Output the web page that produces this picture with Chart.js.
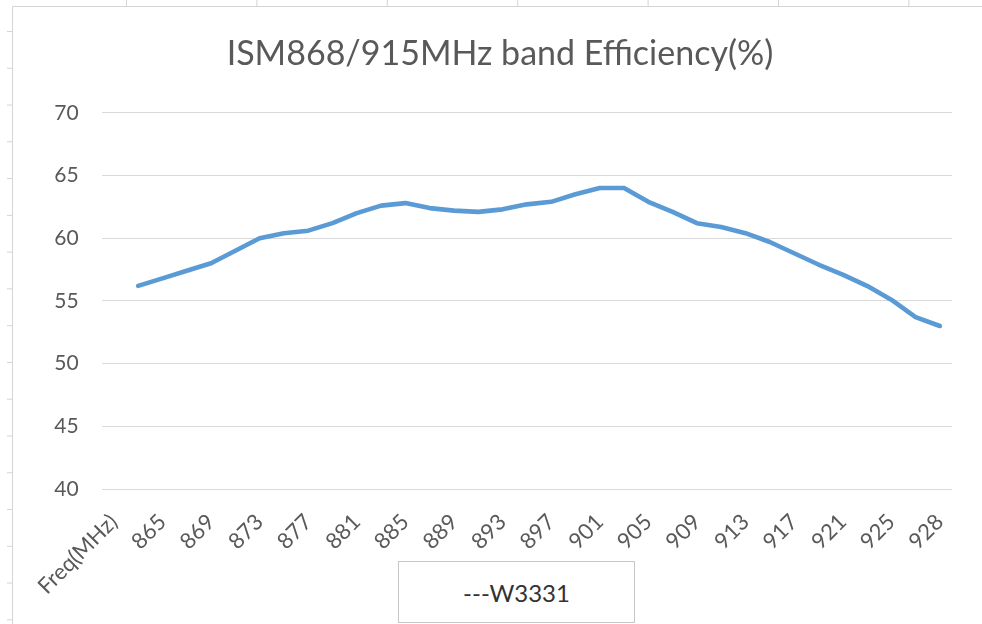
<!DOCTYPE html>
<html>
<head>
<meta charset="utf-8">
<script src="https://cdn.jsdelivr.net/npm/chart.js@4"></script>
<style>
  body { margin: 0; background: #fff; }
  #marco { position: relative; width: 982px; height: 624px; }
  #leyenda {
    position: absolute; left: 398px; top: 561px; width: 235px; height: 60px;
    border: 1px solid #c8c8c8; background: #fff;
    font: 24px Lato, sans-serif; color: #333;
    display: flex; align-items: center; justify-content: center;
  }
</style>
</head>
<body>
<div id="marco">
  <canvas id="grafico" width="982" height="624"></canvas>
  <div id="leyenda"></div>
</div>
<script>
// datos
const titulo = 'ISM868/915MHz band Efficiency(%)';
const serie = '---W3331';

const categorias = ['Freq(MHz)',
  '863', '865', '867', '869', '871', '873', '875', '877', '879', '881',
  '883', '885', '887', '889', '891', '893', '895', '897', '899', '901',
  '903', '905', '907', '909', '911', '913', '915', '917', '919', '921',
  '923', '925', '927', '928'];

const eficiencia = [null,
  56.2, 56.8, 57.4, 58.0, 59.0, 60.0, 60.4, 60.6, 61.2, 62.0,
  62.6, 62.8, 62.4, 62.2, 62.1, 62.3, 62.7, 62.9, 63.5, 64.0,
  64.0, 62.9, 62.1, 61.2, 60.9, 60.4, 59.7, 58.8, 57.9, 57.1,
  56.2, 55.1, 53.7, 53.0];

const valoresY = [40, 45, 50, 55, 60, 65, 70];

// marco gris de la hoja (borde izquierdo y superior con marcas)
const marcoHoja = {
  id: 'marcoHoja',
  beforeDraw(chart) {
    const ctx = chart.ctx;
    ctx.save();
    ctx.strokeStyle = '#d4d4d4';
    ctx.lineWidth = 1;
    ctx.beginPath();
    ctx.moveTo(12.5, 624);
    ctx.lineTo(12.5, 6.5);
    ctx.lineTo(982, 6.5);
    for (let x = 126.5; x < 982; x += 130.4) {
      ctx.moveTo(x, 0);
      ctx.lineTo(x, 6.5);
    }
    for (let y = 31.5; y < 624; y += 36.77) {
      ctx.moveTo(7, y);
      ctx.lineTo(12.5, y);
    }
    ctx.stroke();
    ctx.restore();
  }
};

document.getElementById('leyenda').textContent = serie;

const ctx = document.getElementById('grafico').getContext('2d');

const grafico = new Chart(ctx, {
  type: 'line',
  data: {
    labels: categorias,
    datasets: [{
      label: serie,
      data: eficiencia,
      borderColor: '#5b9bd5',
      borderWidth: 4.6,
      borderCapStyle: 'round',
      borderJoinStyle: 'round',
      pointRadius: 0,
      tension: 0,
      fill: false
    }]
  },
  options: {
    responsive: false,
    animation: false,
    layout: { padding: { left: 48, right: 30, top: 6, bottom: 0 } },
    plugins: {
      legend: { display: false },
      tooltip: { enabled: false },
      title: {
        display: true,
        text: titulo,
        color: '#595959',
        font: { family: 'Lato', size: 34, weight: 'normal' },
        padding: { top: 28, bottom: 38 }
      }
    },
    scales: {
      x: {
        offset: true,
        grid: { display: false },
        border: { display: false },
        ticks: {
          autoSkip: false,
          minRotation: 45,
          maxRotation: 45,
          padding: 12,
          color: '#595959',
          font: { family: 'Lato', size: 22 },
          callback: function (valor, i) {
            return i % 2 === 0 ? categorias[i] : '';
          }
        },
        afterFit(escala) {
          escala.height = 135;
        }
      },
      y: {
        min: valoresY[0],
        max: valoresY[valoresY.length - 1],
        afterBuildTicks(escala) {
          escala.ticks = valoresY.map(v => ({ value: v }));
        },
        grid: { color: '#d9d9d9', lineWidth: 1, drawTicks: false },
        border: { display: false },
        ticks: {
          padding: 23,
          color: '#595959',
          font: { family: 'Lato', size: 21 }
        },
        afterFit(escala) {
          escala.width = 53.7;
        }
      }
    }
  },
  plugins: [marcoHoja]
});
</script>
</body>
</html>
